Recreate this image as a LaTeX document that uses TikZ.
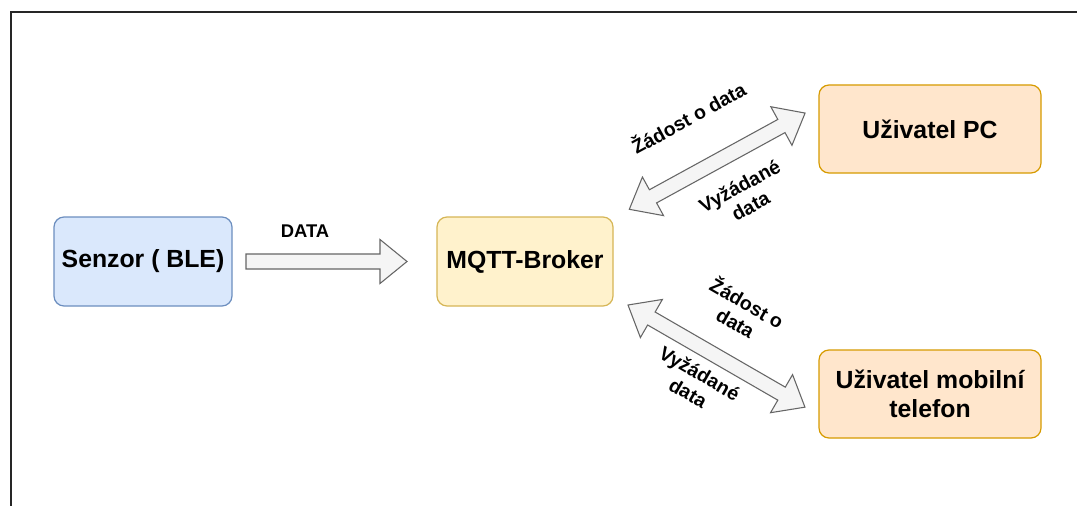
\documentclass[tikz,border=0pt]{standalone}
\usepackage{fontspec}
\setmainfont{Liberation Sans}
\definecolor{blueFill}{HTML}{DAE8FC}
\definecolor{blueLine}{HTML}{6C8EBF}
\definecolor{yelFill}{HTML}{FFF2CC}
\definecolor{yelLine}{HTML}{D6B656}
\definecolor{orgFill}{HTML}{FFE6CC}
\definecolor{orgLine}{HTML}{D79B00}
\definecolor{arrFill}{HTML}{F5F5F5}
\definecolor{arrLine}{HTML}{666666}
\tikzset{
  box/.style={draw, rounded corners=7.5pt, line width=0.9pt, align=center,
    inner sep=0pt, font=\fontsize{18.6}{21.5}\selectfont\bfseries},
  bluebox/.style={box, fill=blueFill, draw=blueLine, minimum width=133.5pt, minimum height=66.75pt},
  yelbox/.style={box, fill=yelFill, draw=yelLine, minimum width=132pt, minimum height=66.75pt},
  orgbox/.style={box, fill=orgFill, draw=orgLine, minimum width=166.5pt, minimum height=66pt},
  arrowbody/.style={draw=arrLine, fill=arrFill, line width=0.8pt, line join=miter},
  arrlabel/.style={font=\fontsize{14.6}{17}\selectfont\bfseries, align=center, inner sep=0pt},
  frameline/.style={draw=black!85, line width=1.8pt},
  pics/onehead/.style={code={
    \draw[arrowbody] (0,-7.5) -- (#1-27,-7.5) -- (#1-27,-22) -- (#1,0)
      -- (#1-27,22) -- (#1-27,7.5) -- (0,7.5) -- cycle;}},
  pics/twohead/.style={code={
    \draw[arrowbody] (0,0) -- (27,22) -- (27,7.5) -- (#1-27,7.5) -- (#1-27,22)
      -- (#1,0) -- (#1-27,-22) -- (#1-27,-7.5) -- (27,-7.5) -- (27,-22) -- cycle;}},
}
\begin{document}
\begin{tikzpicture}[x=0.75pt, y=-0.75pt]
  \useasboundingbox (0,0) rectangle (1077,506);
  \fill[white] (0,0) rectangle (1077,506);

  % outer frame (top and left edges)
  \coordinate (fc) at (10.8,11.8);
  \coordinate (ftr) at (1077,11.8);
  \coordinate (fbl) at (10.8,506);
  \draw[frameline] (fbl) -- (fc) -- (ftr);

  % boxes
  \node[bluebox] (senzor) at (143,261.5) {Senzor ( BLE)};
  \node[yelbox]  (broker) at (525,261.5) {MQTT-Broker};
  \node[orgbox]  (pc)     at (930,129)   {Uživatel PC};
  \node[orgbox]  (mobil)  at (930,394)   {Uživatel mobilní\\telefon};

  % sensor -> broker
  \coordinate (d1) at (246,261.5);
  \coordinate (d2) at (407,261.5);
  \pic at (d1) {onehead=161};
  \node[arrlabel, font=\fontsize{13.8}{15}\selectfont\bfseries] (datalbl) at (305,231) {DATA};

  % broker <-> PC
  \coordinate (u1) at (629.3,209.3);
  \coordinate (u2) at (805,113);
  \pic[rotate=28.7] at (u1) {twohead=200.4};
  \node[arrlabel, rotate=28.7] (ureq) at (688,117) {Žádost o data};
  \node[arrlabel, rotate=28.7] (uans) at (745,196) {Vyžádané\\data};

  % broker <-> mobile
  \coordinate (l1) at (628,305);
  \coordinate (l2) at (805,407);
  \pic[rotate=-30] at (l1) {twohead=204.3};
  \node[arrlabel, rotate=-30] (lreq) at (742,312) {Žádost o\\data};
  \node[arrlabel, rotate=-30] (lans) at (694,383) {Vyžádané\\data};
\end{tikzpicture}
\end{document}
